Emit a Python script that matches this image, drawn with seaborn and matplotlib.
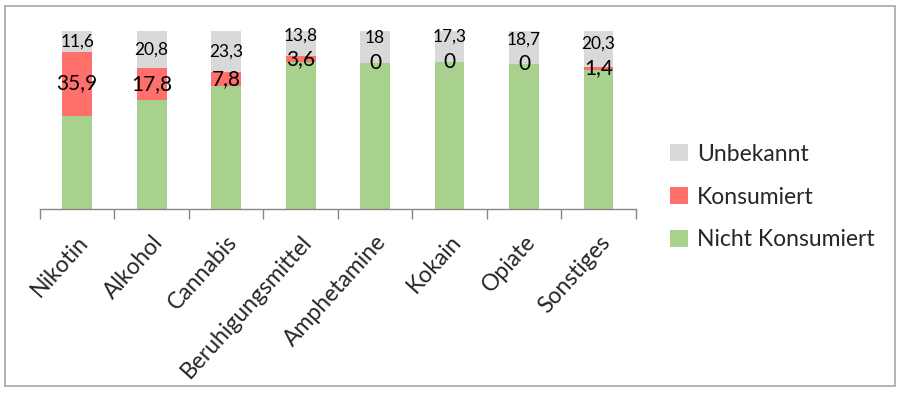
import matplotlib
matplotlib.use("Agg")
import matplotlib.pyplot as plt
from matplotlib.patches import Rectangle
import seaborn as sns
import pandas as pd
import numpy as np

categories = ["Nikotin", "Alkohol", "Cannabis", "Beruhigungsmittel",
              "Amphetamine", "Kokain", "Opiate", "Sonstiges"]
unbekannt = [11.6, 20.8, 23.3, 13.8, 18, 17.3, 18.7, 20.3]
konsumiert = [35.9, 17.8, 7.8, 3.6, 0, 0, 0, 1.4]
nicht_konsumiert = [100 - u - k for u, k in zip(unbekannt, konsumiert)]

c_green = "#A9D18E"
c_red = "#FF6F6B"
c_gray = "#D9D9D9"

sns.set_theme(style="white")
plt.rcParams['font.family'] = ['Lato', 'DejaVu Sans']

df = pd.DataFrame({
    "cat": categories,
    "nk": nicht_konsumiert,
    "k": konsumiert,
    "u": unbekannt,
})
df["nk_k"] = df["nk"] + df["k"]
df["total"] = df["nk_k"] + df["u"]

fig = plt.figure(figsize=(9, 3.94), dpi=100)
ax = fig.add_axes([0.0444, 0.4695, 0.662, 0.452])

sns.barplot(data=df, x="cat", y="total", color=c_gray, width=0.4, ax=ax,
            saturation=1, label="Unbekannt", linewidth=0, legend=False)
sns.barplot(data=df, x="cat", y="nk_k", color=c_red, width=0.4, ax=ax,
            saturation=1, label="Konsumiert", linewidth=0, legend=False)
sns.barplot(data=df, x="cat", y="nk", color=c_green, width=0.4, ax=ax,
            saturation=1, label="Nicht Konsumiert", linewidth=0, legend=False)

for i, row in df.iterrows():
    y_k = row["nk"] + row["k"] / 2
    ax.text(i, y_k, f"{row['k']:g}".replace(".", ","),
            ha="center", va="center", fontsize=15, color="black")
    # keep the "Unbekannt" label clear of the "Konsumiert" label (as Excel does)
    y_u = max(row["nk_k"] + row["u"] / 2, y_k + 14)
    y_u = min(y_u, row["total"] - 2.5)
    ax.text(i, y_u, f"{row['u']:g}".replace(".", ","),
            ha="center", va="center", fontsize=12.5, color="black")

ax.set_ylim(0, 100)
ax.set_xlim(-0.5, len(categories) - 0.5)
ax.set_xlabel("")
ax.set_ylabel("")
ax.set_yticks([])
for s in ["top", "right", "left"]:
    ax.spines[s].set_visible(False)
ax.spines["bottom"].set_color("#868686")
ax.spines["bottom"].set_linewidth(1)
ax.set_xticks(np.arange(-0.5, len(categories), 1), minor=False)
ax.set_xticklabels([])
ax.tick_params(axis="x", which="major", bottom=True, length=7, color="#868686", width=1)
ax.set_xticks(np.arange(len(categories)), minor=True)
ax.set_xticklabels(categories, minor=True, rotation=48, ha="right",
                   rotation_mode="anchor", fontsize=16.5)
ax.tick_params(axis="x", which="minor", bottom=False, pad=12)

if ax.get_legend() is not None:
    ax.get_legend().remove()
handles, labels = ax.get_legend_handles_labels()
leg = fig.legend(handles[:3], labels[:3], loc="center left", bbox_to_anchor=(0.722, 0.5),
                 frameon=False, fontsize=16.5, handlelength=0.75, handleheight=0.75,
                 labelspacing=0.95, handletextpad=0.4)

fig.add_artist(Rectangle((5 / 900, 8 / 394), 890 / 900, 380 / 394,
                         transform=fig.transFigure, fill=False,
                         edgecolor="#A6A6A6", linewidth=1.2))

fig.savefig("out.png", dpi=100)
